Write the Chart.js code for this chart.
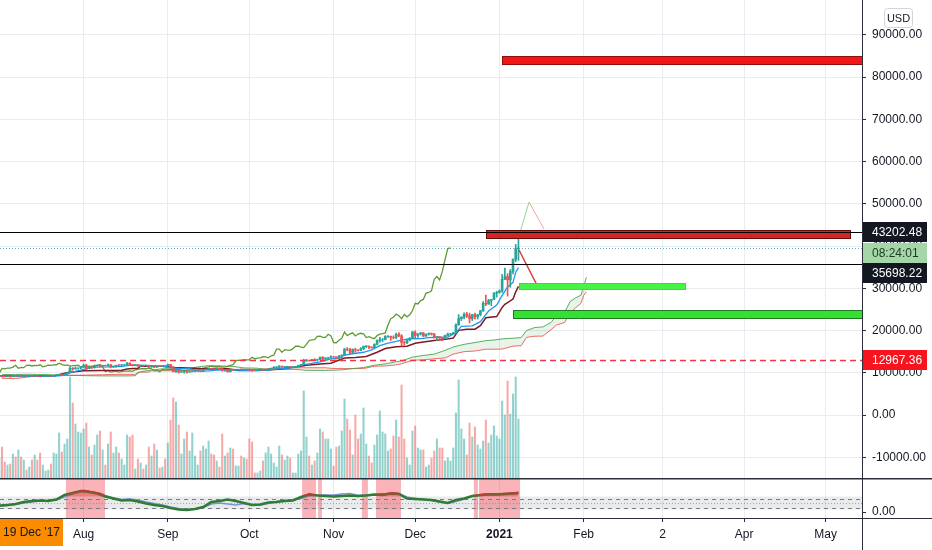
<!DOCTYPE html>
<html>
<head>
<meta charset="utf-8">
<script src="https://cdn.jsdelivr.net/npm/chart.js@4.4.0/dist/chart.umd.min.js"></script>
<style>
  html, body { margin: 0; padding: 0; background: #fff; }
  #wrap { position: relative; width: 932px; height: 550px; }
</style>
</head>
<body>
<div id="wrap"><canvas id="chart"></canvas></div>
<script>
/*
  BTC/USD daily, Jul 2020 - Jan 2021, Ichimoku + volume + oscillator pane.
  x values are days counted from 1 Jul 2020.
*/

// daily candles (day 0 = 1 Jul 2020), open = previous close
const firstOpen = 9185;
const closes = [
  9228, 9088, 9073, 9133, 9087, 9342, 9252, 9429, 9232, 9289,
  9234, 9302, 9243, 9243, 9192, 9132, 9154, 9170, 9208, 9160,
  9391, 9537, 9608, 9551, 9707, 9935, 11029, 10906, 11100, 11112,
  11323, 11759, 11053, 11246, 11205, 11747, 11779, 11601, 11754, 11675,
  11878, 11410, 11584, 11784, 11768, 11865, 11892, 12254, 11991, 11758,
  11879, 11592, 11682, 11664, 11774, 11366, 11488, 11324, 11542, 11507,
  11711, 11680, 11970, 11414, 10245, 10512, 10167, 10280, 10370, 10131,
  10242, 10364, 10400, 10442, 10323, 10680, 10796, 10974, 10948, 10944,
  11094, 10939, 10462, 10538, 10246, 10760, 10692, 10750, 10776, 10709,
  10844, 10784, 10619, 10575, 10549, 10669, 10793, 10604, 10668, 10915,
  11064, 11296, 11384, 11555, 11425, 11430, 11502, 11320, 11367, 11515,
  11752, 11917, 12823, 12965, 12931, 13108, 13031, 13075, 13654, 13271,
  13437, 13546, 13781, 13737, 13550, 14023, 14146, 15590, 15579, 14818,
  15475, 15332, 15290, 15701, 16276, 16317, 16068, 15955, 16716, 17645,
  17804, 17817, 18621, 18642, 18370, 18364, 19107, 18732, 17150, 17108,
  17718, 18177, 19625, 18802, 19201, 19445, 18699, 19154, 19345, 19191,
  18321, 18553, 18264, 18058, 18803, 19142, 19246, 19417, 21310, 22805,
  23137, 23869, 23477, 22803, 23783, 23241, 23735, 24664, 26437, 26272,
  27084, 27362, 28841, 29001, 29374, 32127, 32782, 31971, 33992, 36824,
  39371, 39530
];
const highs = [
  9290, 9260, 9125, 9190, 9140, 9360, 9360, 9450, 9440, 9300,
  9290, 9330, 9340, 9280, 9270, 9210, 9190, 9190, 9230, 9220,
  9420, 9540, 9650, 9620, 9720, 10080, 11390, 11240, 11340, 11170,
  11450, 12090, 12030, 11480, 11410, 11780, 11900, 11900, 11800, 11800,
  12060, 12000, 11620, 11790, 11990, 11970, 11920, 12470, 12390, 12030,
  11890, 11900, 11710, 11700, 11810, 11780, 11530, 11580, 11580, 11570,
  11720, 11770, 12060, 12000, 11450, 10590, 10530, 10290, 10400, 10430,
  10330, 10480, 10420, 10470, 10450, 10760, 10940, 11080, 11040, 11030,
  11170, 11120, 10990, 10570, 10540, 10800, 10760, 10800, 10800, 10950,
  10860, 10850, 10910, 10640, 10600, 10690, 10800, 10800, 10680, 10940,
  11110, 11490, 11430, 11700, 11560, 11550, 11540, 11540, 11400, 11530,
  11800, 11990, 13200, 13170, 13020, 13160, 13330, 13240, 13780, 13840,
  13610, 13670, 14030, 13860, 13800, 14060, 14240, 15740, 15960, 15770,
  15650, 15800, 15460, 15950, 16320, 16480, 16330, 16140, 16870, 17800,
  18390, 18110, 18790, 18800, 18680, 18750, 19390, 19480, 19000, 17440,
  17850, 18300, 19780, 19920, 19300, 19560, 19510, 19180, 19410, 19410,
  19290, 18640, 18560, 18280, 18940, 19400, 19300, 19560, 21560, 23770,
  23280, 24170, 24290, 24100, 23840, 24100, 23790, 24790, 26870, 28400,
  27390, 27370, 28990, 29300, 29600, 33300, 34780, 33440, 34440, 36940,
  40370, 41950
];
const lows = [
  9120, 8950, 9050, 9060, 8920, 9070, 9210, 9240, 9150, 9120,
  9200, 9170, 9200, 9120, 9170, 9010, 9090, 9130, 9110, 9130,
  9150, 9270, 9460, 9450, 9520, 9650, 9920, 10600, 10860, 10830,
  10960, 11220, 10650, 10980, 11000, 11080, 11560, 11360, 11520, 11570,
  11540, 11150, 11250, 11300, 11670, 11680, 11700, 11770, 11850, 11620,
  11680, 11520, 11450, 11500, 11590, 11200, 11300, 11180, 11280, 11450,
  11500, 11600, 11650, 11220, 10190, 10090, 9880, 10080, 9930, 9900,
  10120, 10220, 10200, 10340, 10230, 10250, 10660, 10700, 10800, 10830,
  10900, 10810, 10390, 10360, 10140, 10200, 10560, 10650, 10650, 10680,
  10660, 10680, 10530, 10400, 10520, 10530, 10630, 10540, 10570, 10560,
  10840, 11050, 11260, 11200, 11320, 11280, 11320, 11230, 11300, 11350,
  11410, 11700, 11900, 12710, 12720, 12880, 12890, 12800, 13060, 12930,
  12980, 13120, 13450, 13620, 13250, 13300, 13550, 14100, 15200, 14400,
  14730, 14830, 15080, 15260, 15450, 15950, 15700, 15800, 15880, 16560,
  17220, 17340, 17770, 18350, 17640, 18000, 18080, 18560, 16330, 16510,
  16900, 17550, 18150, 18320, 18350, 18930, 18570, 18600, 18920, 18900,
  18200, 17650, 17920, 17570, 18000, 18730, 19000, 19060, 19290, 21250,
  22350, 22770, 23090, 21810, 22360, 22700, 22700, 23430, 24520, 25870,
  26190, 25900, 27320, 27920, 28800, 29000, 32050, 28130, 30220, 33400,
  36300, 36600
];
const volumes = [
  20,
  31, 16, 13, 14, 24, 21, 28, 21, 18, 8,
  11, 18, 23, 18, 25, 13, 7, 8, 14, 25,
  24, 45, 26, 34, 39, 101, 75, 54, 46, 45,
  49, 55, 31, 23, 33, 43, 47, 28, 13, 34,
  46, 25, 31, 25, 19, 13, 43, 41, 43, 9,
  19, 15, 9, 13, 31, 22, 34, 28, 10, 11,
  19, 35, 58, 80, 76, 53, 24, 39, 46, 27,
  45, 22, 13, 27, 32, 29, 37, 24, 23, 17,
  11, 44, 22, 25, 30, 29, 12, 12, 22, 20,
  19, 39, 36, 5, 5, 7, 17,
  25, 31, 24, 15, 11, 32, 23, 18, 22, 20,
  5, 5, 24, 27, 87, 41, 22, 13, 17, 25,
  49, 46, 39, 39, 29, 12, 31, 32, 47, 79,
  59, 48, 23, 63, 39, 44, 70, 34, 22, 15,
  33, 43, 67, 46, 44, 27, 29, 42, 58, 41,
  93, 39, 20, 13, 47, 52, 30, 28, 28, 11,
  13, 20, 27, 39, 30, 30, 17, 20, 17, 30,
  65, 98, 49, 39, 23, 55, 41, 51, 33, 29,
  37, 58, 35, 43, 52, 42, 39, 77, 63, 97,
  64, 84, 101, 59
];

// ichimoku lines
const tenkanDays = [0, 8, 15, 20, 24, 26, 28, 31, 33, 35, 40, 45, 48, 52, 57, 61, 64, 66, 70, 73,
  77, 80, 83, 86, 90, 95, 100, 104, 108, 112, 114, 118, 122, 125, 127, 130, 134, 137, 140, 143,
  146, 148, 151, 155, 158, 162, 165, 168, 170, 174, 177, 180, 183, 185, 187, 189, 190, 191];
const tenkanVals = [9250, 9230, 9250, 9230, 9380, 10050, 10300, 10800, 11100, 11350, 11380, 11500, 11750, 11820, 11650, 11480, 11100, 11000, 10985, 10400,
  10450, 10600, 10700, 10700, 10550, 10580, 10750, 11000, 11200, 11900, 12100, 12550, 13300, 13400, 14200, 14500, 14850, 15400, 16400, 17000,
  17450, 17700, 18050, 18100, 18300, 18400, 18450, 19500, 21000, 21100, 22100, 24600, 26000, 28300, 30300, 31400, 33800, 34900];

const kijunDays = [0, 10, 20, 26, 27, 31, 38, 45, 47, 48, 51, 52, 60, 64, 67, 74, 79, 84, 88, 95,
  99, 104, 112, 113, 118, 122, 127, 131, 135, 139, 142, 146, 150, 153, 156, 160, 164, 167, 169, 172,
  175, 177, 179, 183, 185, 186, 189, 190, 191];
const kijunVals = [9300, 9300, 9250, 10175, 10200, 10500, 10530, 10620, 10900, 10940, 11065, 11540, 11540, 11215, 11180, 10990, 10950, 10950, 10525, 10525,
  10655, 10920, 11670, 11750, 12090, 12250, 13475, 13600, 13860, 14850, 15750, 16180, 16300, 17000, 17300, 17650, 17900, 18200, 20035, 20300,
  20300, 21150, 23000, 23300, 25450, 26200, 27450, 29150, 30450];

const lagShift = 25;   // lagging span plotted 25 bars back

const cloudDays = [1, 6, 10, 14, 20, 26, 32, 38, 44, 48, 50, 51, 52, 55, 56, 60, 65, 70, 73, 77,
  82, 86, 90, 95, 98, 101, 102, 108, 113, 120, 123, 126, 130, 134, 138, 142, 146, 148, 152, 156,
  160, 164, 167, 171, 175, 179, 182, 185, 189, 192, 194, 197, 200, 203, 205, 208, 210, 212, 214, 215, 216];
const senkouA = [9550, 9600, 9650, 9600, 9500, 9400, 9300, 9250, 9250, 9260, 9300, 9875, 10250, 10550, 10650, 10930, 10955, 11050, 11375, 11685,
  11600, 11515, 11150, 11080, 10790, 10740, 10725, 10825, 10570, 10550, 10600, 10685, 10975, 11250, 11785, 12100, 12600, 12800, 13700, 14100,
  14400, 15300, 16100, 16725, 17150, 17600, 17750, 18025, 18175, 18325, 20000, 20700, 20850, 21900, 23500, 24300, 26850, 27700, 28350, 30500, 32600];
const senkouB = [8665, 8640, 8940, 9265, 9320, 9380, 9450, 9530, 9630, 9620, 9620, 10125, 10150, 10150, 10475, 10475, 10475, 10600, 10690, 10735,
  10750, 10765, 10790, 10810, 10940, 11065, 11180, 11180, 11180, 11180, 10990, 10985, 10985, 10985, 11540, 11615, 11870, 12120, 12945, 13050,
  13310, 13510, 14400, 14990, 15150, 15575, 15575, 15600, 16300, 16400, 18375, 18650, 18675, 20200, 21300, 21900, 24250, 25350, 26450, 28300, 29125];

// oscillator pane
const oscDays = [0, 3, 6, 9, 12, 15, 18, 21, 24, 27, 30, 33, 36, 39, 42, 45, 48, 51, 54, 57,
  60, 63, 66, 69, 72, 75, 78, 81, 84, 87, 90, 93, 96, 99, 102, 105, 108, 111, 114, 117,
  120, 123, 126, 129, 132, 135, 138, 141, 144, 147, 150, 153, 156, 159, 162, 165, 168, 171, 174, 177,
  180, 183, 186, 189, 191];
const oscGreen = [13, 14, 16, 20, 22, 23, 22, 25, 34, 38, 42, 40, 37, 31, 27, 23, 24, 21, 17, 14,
  12, 8, 5, 4, 6, 10, 20, 22, 25, 22, 18, 14, 15, 19, 20, 22, 23, 30, 35, 33,
  32, 31, 32, 33, 32, 33, 35, 34, 37, 36, 27, 26, 25, 24, 21, 18, 24, 27, 32, 34,
  35, 35, 36, 37, 38];
const oscBlue = [12, 13, 15, 18, 20, 22, 23, 24, 30, 36, 40, 41, 38, 33, 28, 25, 26, 24, 20, 17,
  14, 10, 7, 5, 6, 9, 16, 18, 16, 14, 17, 15, 14, 17, 21, 23, 24, 27, 32, 34,
  34, 34, 36, 37, 33, 34, 35, 36, 36, 37, 30, 27, 26, 23, 20, 17, 21, 26, 31, 33,
  34, 34, 35, 36, 37];
const oscRedDays = [25, 28, 31, 34, 37, 38.5, 39, 112, 114, 116, 117, 139, 142, 145, 147.5, 148, 175, 178, 181, 184, 187, 190, 191];
const oscRedVals = [35, 40, 44, 41, 38, 35, null, 33, 37, 35, null, 36, 37, 39, 37, null, 33, 36, 37, 37, 38, 39, 40];
const oscBand = [5, 31];
const oscLevels = [9, 27];
const oscMid = 18;
const hlStart = [24.5, 111.4, 117.3, 133.4, 138.6, 174.6, 176.5];
const hlEnd = [38.9, 116.5, 118.7, 135.6, 147.8, 176.1, 191.6];

// drawings
const rectStart = [184.8, 179.1, 191.2, 189.0];
const rectEnd = [330, 313.0, 252.3, 330];
const rectTop = [85040, 43790, 31310, 24850];
const rectBottom = [83150, 41960, 29820, 23030];
const projUpX = [191.6, 194.9], projUpY = [43300, 50400];
const projDownX = [194.9, 200.4], projDownY = [50400, 44000];
const projTargetX = [191.2, 197.8], projTargetY = [39050, 30770];
const blackLevels = [43202.48, 35698.22];
const supportLevel = 12967.36;
const countdown = '08:24:01';
const cursorDate = "19 Dec '17";

// axes
const priceTicks = [-10000, 0, 10000, 20000, 30000, 40000, 50000, 60000, 70000, 80000, 90000];
const xTickDays = [31, 62, 92, 123, 153, 184, 215, 244, 274, 304];
const xTickLabels = ['Aug', 'Sep', 'Oct', 'Nov', 'Dec', '2021', 'Feb', '2', 'Apr', 'May'];
const xMin = 0.25, xMax = 317.4;
const priceMin = -14911, priceMax = 98225;

const UP = '#26a69a', DOWN = '#ef5350';
const GRID = '#e9ecf1', AXIS = '#2a2e39', TEXT = '#131722';
const FONT = "'Liberation Sans', Arial, sans-serif";
Chart.defaults.font.family = FONT;

const opens = closes.map((c, i) => i ? closes[i - 1] : firstOpen);
const isUp = closes.map((c, i) => c >= opens[i]);
const pts = (xs, ys) => xs.map((x, i) => ({x: x, y: ys[i]}));

// fixed-size axes, no label overflow padding so panes line up with the pixels
const fixAxis = (w, h) => s => {
  if (w !== null) s.width = w;
  if (h !== null) s.height = h;
  s.paddingTop = 0; s.paddingBottom = 0; s.paddingLeft = 0; s.paddingRight = 0;
};

const overlay = {
  id: 'overlay',
  beforeDatasetsDraw(chart) {
    const {ctx, chartArea: a} = chart;
    const {x, osc} = chart.scales;
    ctx.save();
    const b0 = osc.getPixelForValue(oscBand[1]), b1 = osc.getPixelForValue(oscBand[0]);
    ctx.fillStyle = 'rgba(120,123,134,0.16)';
    ctx.fillRect(a.left, b0, a.right - a.left, b1 - b0);
    ctx.fillStyle = 'rgba(242,54,69,0.38)';
    hlStart.forEach((s, i) => {
      const x0 = x.getPixelForValue(s), x1 = x.getPixelForValue(hlEnd[i]);
      ctx.fillRect(x0, osc.top + 1, x1 - x0, osc.bottom - osc.top - 1);
    });
    ctx.strokeStyle = '#787b86';
    ctx.lineWidth = 1;
    ctx.setLineDash([4, 4]);
    oscLevels.forEach(v => {
      const yy = Math.round(osc.getPixelForValue(v)) + 0.5;
      ctx.beginPath(); ctx.moveTo(a.left, yy); ctx.lineTo(a.right, yy); ctx.stroke();
    });
    ctx.setLineDash([1, 2]);
    ctx.strokeStyle = 'rgba(120,123,134,0.6)';
    const ym = Math.round(osc.getPixelForValue(oscMid)) + 0.5;
    ctx.beginPath(); ctx.moveTo(a.left, ym); ctx.lineTo(a.right, ym); ctx.stroke();
    ctx.restore();
  },
  afterDatasetsDraw(chart) {
    const {ctx, chartArea: a} = chart;
    const {x, y} = chart.scales;
    ctx.save();
    ctx.beginPath();
    ctx.rect(a.left, y.top, a.right - a.left, y.bottom - y.top);
    ctx.clip();
    // zones
    const fills = ['#f21616', '#d42424', '#45f545', '#33e033'];
    const edges = ['#8e0d0d', '#6b0c0c', '#4ccf4c', '#1f7a1f'];
    rectStart.forEach((s, i) => {
      const x0 = Math.round(x.getPixelForValue(s)) + 0.5;
      const x1 = Math.round(x.getPixelForValue(rectEnd[i])) + 0.5;
      const y0 = Math.round(y.getPixelForValue(rectTop[i])) + 0.5;
      const y1 = Math.round(y.getPixelForValue(rectBottom[i])) + 0.5;
      ctx.fillStyle = fills[i];
      ctx.fillRect(x0, y0, x1 - x0, y1 - y0);
      ctx.strokeStyle = edges[i];
      ctx.lineWidth = 1;
      ctx.strokeRect(x0, y0, x1 - x0, y1 - y0);
    });
    // horizontal levels
    ctx.strokeStyle = '#000';
    ctx.lineWidth = 1.2;
    blackLevels.forEach(p => {
      const yy = Math.round(y.getPixelForValue(p)) + 0.5;
      ctx.beginPath(); ctx.moveTo(a.left, yy); ctx.lineTo(a.right, yy); ctx.stroke();
    });
    ctx.strokeStyle = '#f23645';
    ctx.lineWidth = 1.6;
    ctx.setLineDash([6, 4]);
    const ys = Math.round(y.getPixelForValue(supportLevel)) + 0.5;
    ctx.beginPath(); ctx.moveTo(a.left, ys); ctx.lineTo(a.right, ys); ctx.stroke();
    ctx.strokeStyle = 'rgba(38,166,154,0.75)';
    ctx.lineWidth = 1;
    ctx.setLineDash([1, 2]);
    const yl = Math.round(y.getPixelForValue(closes[closes.length - 1])) + 0.5;
    ctx.beginPath(); ctx.moveTo(a.left, yl); ctx.lineTo(a.right, yl); ctx.stroke();
    ctx.restore();
  },
  afterDraw(chart) {
    const {ctx, chartArea: a, width, height} = chart;
    const {y, osc} = chart.scales;
    ctx.save();
    // pane separators and price axis line
    ctx.fillStyle = AXIS;
    ctx.fillRect(0, Math.round(y.bottom), width, 1.5);
    ctx.fillRect(0, Math.round(osc.bottom), width, 1);
    ctx.fillRect(Math.round(a.right), 0, 1, height);
    // price tags
    const left = Math.round(a.right) + 1;
    const tag = (text, cy, bg, fg) => {
      ctx.fillStyle = bg;
      ctx.fillRect(left, Math.round(cy - 10), 64, 20);
      ctx.fillStyle = fg;
      ctx.font = '12px ' + FONT;
      ctx.textAlign = 'left';
      ctx.textBaseline = 'middle';
      ctx.fillText(text, left + 9, Math.round(cy) + 0.5);
    };
    const y1 = y.getPixelForValue(blackLevels[0]);
    tag(blackLevels[0].toFixed(2), y1, '#131722', '#fff');
    tag(countdown, y1 + 20.5, '#a5d6a7', '#1b3a1f');
    tag(blackLevels[1].toFixed(2), y1 + 41, '#131722', '#fff');
    tag(supportLevel.toFixed(2), y.getPixelForValue(supportLevel), '#f7141e', '#fff');
    // currency button
    ctx.fillStyle = '#fff';
    ctx.strokeStyle = '#d1d4dc';
    ctx.lineWidth = 1;
    ctx.beginPath();
    ctx.roundRect(884.5, 8.5, 28, 19, 3);
    ctx.fill();
    ctx.stroke();
    ctx.fillStyle = TEXT;
    ctx.font = '11px ' + FONT;
    ctx.textAlign = 'center';
    ctx.textBaseline = 'middle';
    ctx.fillText('USD', 898.5, 18.5);
    // crosshair date label
    ctx.fillStyle = '#fb8c00';
    ctx.fillRect(0, Math.round(osc.bottom) + 1, 63, 27);
    ctx.fillStyle = TEXT;
    ctx.font = '12px ' + FONT;
    ctx.fillText(cursorDate, 31.5, Math.round(osc.bottom) + 15);
    ctx.restore();
  }
};

const lineBase = {type: 'line', pointRadius: 0, pointHoverRadius: 0, tension: 0};

new Chart(document.getElementById('chart'), {
  type: 'line',
  data: {
    datasets: [
      {type: 'bar', label: 'Body', yAxisID: 'y', order: 1, grouped: false, barThickness: 2,
        data: closes.map((c, i) => ({x: i, y: [opens[i], c]})),
        backgroundColor: isUp.map(u => u ? UP : DOWN)},
      {type: 'bar', label: 'Wick', yAxisID: 'y', order: 2, grouped: false, barThickness: 1,
        data: closes.map((c, i) => ({x: i, y: [lows[i], highs[i]]})),
        backgroundColor: isUp.map(u => u ? UP : DOWN)},
      {...lineBase, label: 'Conversion', yAxisID: 'y', order: 3, data: pts(tenkanDays, tenkanVals),
        borderColor: '#2196f3', borderWidth: 1.3},
      {...lineBase, label: 'Base', yAxisID: 'y', order: 4, data: pts(kijunDays, kijunVals),
        borderColor: '#801922', borderWidth: 1.5},
      {...lineBase, label: 'Lagging', yAxisID: 'y', order: 5,
        data: closes.map((c, i) => ({x: i - lagShift, y: c})),
        borderColor: '#5f9b31', borderWidth: 1.3},
      {...lineBase, label: 'Lead A', yAxisID: 'y', order: 6, data: pts(cloudDays, senkouA),
        borderColor: 'rgba(67,160,71,0.85)', borderWidth: 1,
        fill: {target: '+1', above: 'rgba(67,160,71,0.12)', below: 'rgba(244,67,54,0.12)'}},
      {...lineBase, label: 'Lead B', yAxisID: 'y', order: 7, data: pts(cloudDays, senkouB),
        borderColor: 'rgba(239,83,80,0.85)', borderWidth: 1},
      {type: 'bar', label: 'Volume', yAxisID: 'vol', order: 9, grouped: false, barThickness: 1.4,
        data: volumes.map((v, i) => ({x: i, y: v})),
        backgroundColor: isUp.map(u => u ? 'rgba(38,166,154,0.5)' : 'rgba(239,83,80,0.5)')},
      {...lineBase, label: 'Projection up', yAxisID: 'y', order: 0, data: pts(projUpX, projUpY),
        borderColor: '#8fd694', borderWidth: 1},
      {...lineBase, label: 'Projection down', yAxisID: 'y', order: 0, data: pts(projDownX, projDownY),
        borderColor: '#f5a3a8', borderWidth: 1},
      {...lineBase, label: 'Target', yAxisID: 'y', order: 0, data: pts(projTargetX, projTargetY),
        borderColor: '#e53935', borderWidth: 1.5},
      {...lineBase, label: 'Osc signal', yAxisID: 'osc', order: 2, data: pts(oscDays, oscBlue),
        borderColor: '#8191d6', borderWidth: 1.5},
      {...lineBase, label: 'Osc', yAxisID: 'osc', order: 1, data: pts(oscDays, oscGreen),
        borderColor: '#2e7d32', borderWidth: 2.5},
      {...lineBase, label: 'Osc hot', yAxisID: 'osc', order: 0, data: pts(oscRedDays, oscRedVals),
        borderColor: '#d32f2f', borderWidth: 1, spanGaps: false,
        fill: {value: oscBand[1]}, backgroundColor: 'rgba(229,57,53,0.45)'}
    ]
  },
  options: {
    responsive: true,
    maintainAspectRatio: false,
    animation: false,
    events: [],
    layout: {padding: 0},
    plugins: {legend: {display: false}, tooltip: {enabled: false}},
    scales: {
      x: {
        type: 'linear', position: 'bottom', min: xMin, max: xMax, offset: false,
        afterBuildTicks: s => { s.ticks = xTickDays.map(v => ({value: v})); },
        afterFit: fixAxis(null, 32),
        grid: {color: GRID, tickColor: AXIS, tickLength: 4, offset: false},
        border: {display: false},
        ticks: {
          autoSkip: false, maxRotation: 0, padding: 5, color: TEXT,
          font: c => ({size: 12, weight: (c.tick && c.tick.value === 184) ? 'bold' : 'normal'}),
          callback: v => { const k = xTickDays.indexOf(v); return k < 0 ? '' : xTickLabels[k]; }
        }
      },
      y: {
        type: 'linear', position: 'right', stack: 'panes', stackWeight: 478,
        min: priceMin, max: priceMax,
        afterBuildTicks: s => { s.ticks = priceTicks.map(v => ({value: v})); },
        afterFit: fixAxis(70, null),
        grid: {color: GRID, tickColor: AXIS, tickLength: 4},
        border: {display: false},
        ticks: {padding: 6, color: TEXT, font: {size: 12}, callback: v => v.toFixed(2)}
      },
      osc: {
        type: 'linear', position: 'right', stack: 'panes', stackWeight: 40,
        min: -12, max: 68,
        afterBuildTicks: s => { s.ticks = [{value: 0}]; },
        afterFit: fixAxis(70, null),
        grid: {drawOnChartArea: false, tickColor: AXIS, tickLength: 4},
        border: {display: false},
        ticks: {padding: 6, color: TEXT, font: {size: 12}, callback: v => v.toFixed(2)}
      },
      vol: {type: 'linear', display: false, position: 'left', min: -40, max: 478}
    }
  },
  plugins: [overlay]
});
</script>
</body>
</html>
